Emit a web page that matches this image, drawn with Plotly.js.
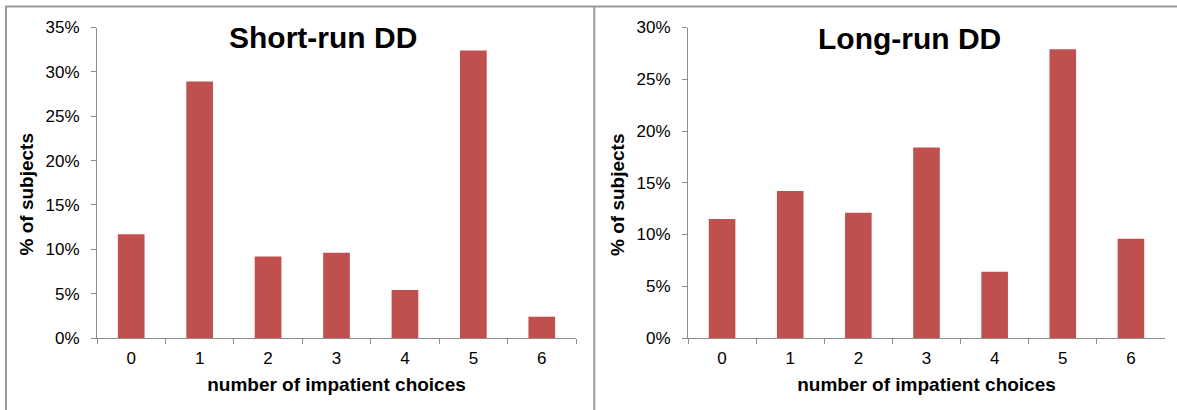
<!DOCTYPE html>
<html>
<head>
<meta charset="utf-8">
<script src="https://cdn.plot.ly/plotly-3.0.1.min.js"></script>
<style>
  html, body { margin: 0; padding: 0; background: #ffffff; overflow: hidden; }
  #chart { width: 1177px; height: 410px; }
</style>
</head>
<body>
<div id="chart"></div>
<script>
// Data
const categories = ['0', '1', '2', '3', '4', '5', '6'];
const shortRunPct = [11.7, 28.9, 9.2, 9.6, 5.4, 32.4, 2.4];
const longRunPct  = [11.5, 14.2, 12.1, 18.4, 6.4, 27.9, 9.6];
const chartTitles = ['Short-run DD', 'Long-run DD'];
const xTitle = 'number of impatient choices';
const yTitle = '% of subjects';

const W = 1177, H = 410;
const px = x => x / W;
const py = y => 1 - y / H;

const barColor = '#C0504D';
const axisGrey = '#8c8c8c';
const frameGrey = '#9a9a9a';
const fontFam = '"Liberation Sans", Arial, sans-serif';

const traces = [
  { type: 'bar', x: categories, y: shortRunPct, xaxis: 'x', yaxis: 'y',
    marker: { color: barColor }, hoverinfo: 'x+y' },
  { type: 'bar', x: categories, y: longRunPct, xaxis: 'x2', yaxis: 'y2',
    marker: { color: barColor }, hoverinfo: 'x+y' }
];

function xAxis(domain, anchor) {
  return {
    domain: domain, anchor: anchor, type: 'category',
    showline: true, linecolor: axisGrey, linewidth: 1,
    ticks: 'outside', tickson: 'boundaries', ticklen: 5, tickcolor: axisGrey, tickwidth: 1,
    showgrid: false, zeroline: false,
    tickfont: { family: fontFam, size: 17, color: '#000' },
    ticklabelstandoff: 5,
    title: { text: xTitle, standoff: 10, font: { family: fontFam, size: 19, color: '#000', weight: 'bold' } },
    automargin: false, fixedrange: true
  };
}
function yAxis(domain, anchor, maxv) {
  return {
    domain: domain, anchor: anchor, range: [0, maxv], dtick: 5, tick0: 0,
    ticksuffix: '%',
    showline: true, linecolor: axisGrey, linewidth: 1,
    ticks: 'outside', ticklen: 5, tickcolor: axisGrey, tickwidth: 1,
    showgrid: false, zeroline: false,
    tickfont: { family: fontFam, size: 17, color: '#000' },
    ticklabelstandoff: 8,
    automargin: false, fixedrange: true
  };
}

const yDom = [py(338), py(27.5)];

const layout = {
  width: W, height: H,
  margin: { l: 0, r: 0, t: 0, b: 0 },
  paper_bgcolor: '#ffffff', plot_bgcolor: '#ffffff',
  showlegend: false,
  bargap: 0.61,
  font: { family: fontFam, color: '#000' },
  xaxis: xAxis([px(97), px(576)], 'y'),
  yaxis: yAxis(yDom, 'x', 35),
  xaxis2: xAxis([px(688), px(1165)], 'y2'),
  yaxis2: yAxis(yDom, 'x2', 30),
  annotations: [
    { text: '<b>' + chartTitles[0] + '</b>', xref: 'paper', yref: 'paper',
      x: px(323), y: py(38), xanchor: 'center', yanchor: 'middle', showarrow: false,
      font: { family: fontFam, size: 30, color: '#000' } },
    { text: '<b>' + chartTitles[1] + '</b>', xref: 'paper', yref: 'paper',
      x: px(909), y: py(39), xanchor: 'center', yanchor: 'middle', showarrow: false,
      font: { family: fontFam, size: 30, color: '#000' } },
    { text: '<b>' + yTitle + '</b>', xref: 'paper', yref: 'paper', textangle: -90,
      x: px(25.5), y: py(195), xanchor: 'center', yanchor: 'middle', showarrow: false,
      font: { family: fontFam, size: 19, color: '#000' } },
    { text: '<b>' + yTitle + '</b>', xref: 'paper', yref: 'paper', textangle: -90,
      x: px(617), y: py(195), xanchor: 'center', yanchor: 'middle', showarrow: false,
      font: { family: fontFam, size: 19, color: '#000' } }
  ],
  shapes: [
    { type: 'line', xref: 'paper', yref: 'paper', x0: px(6), x1: px(6), y0: py(6.5), y1: 0,
      line: { color: frameGrey, width: 2 } },
    { type: 'line', xref: 'paper', yref: 'paper', x0: px(5), x1: 1, y0: py(6.5), y1: py(6.5),
      line: { color: frameGrey, width: 2 } },
    { type: 'line', xref: 'paper', yref: 'paper', x0: px(594.3), x1: px(594.3), y0: py(6.5), y1: 0,
      line: { color: frameGrey, width: 2 } }
  ]
};

Plotly.newPlot('chart', traces, layout, { displayModeBar: false, staticPlot: true });
</script>
</body>
</html>
